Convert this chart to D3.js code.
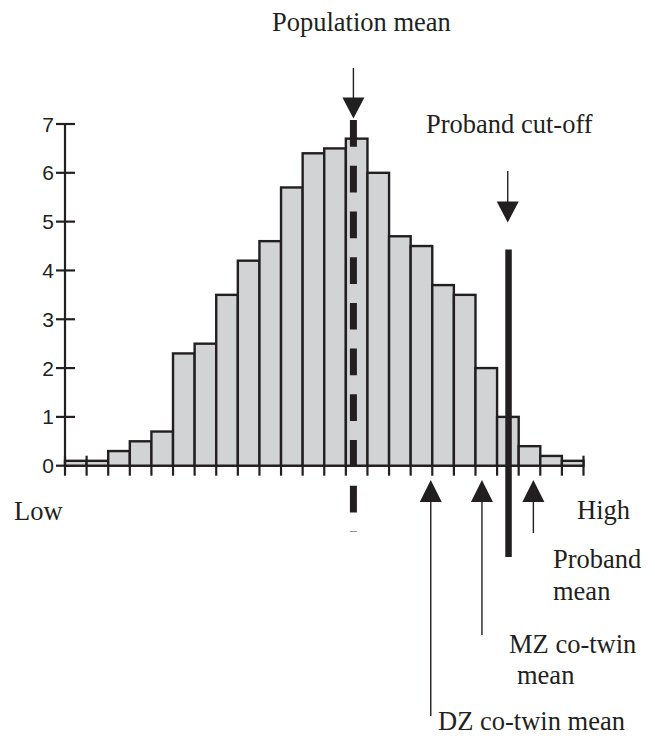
<!DOCTYPE html>
<html>
<head>
<meta charset="utf-8">
<script src="https://cdn.jsdelivr.net/npm/d3@7"></script>
<style>
  body { margin: 0; background: #fff; }
  .tick-label { font-family: "Liberation Sans", Arial, sans-serif; font-size: 21px; fill: #231f20; }
  .note { font-family: "Liberation Serif", "Times New Roman", serif; font-size: 26.5px; fill: #231f20; }
</style>
</head>
<body>
<svg id="chart" width="655" height="738"></svg>
<script>
// bin heights, low to high
const binValues = [0.1, 0.1, 0.3, 0.5, 0.7, 2.3, 2.5, 3.5, 4.2, 4.6, 5.7, 6.4,
                   6.5, 6.7, 6.0, 4.7, 4.5, 3.7, 3.5, 2.0, 1.0, 0.4, 0.2, 0.1];
const yTicks = [0, 1, 2, 3, 4, 5, 6, 7];

// marker positions in bin units
const populationMean = 13.35;
const probandCutoff = 20.53;
const upArrows = [
    { name: "DZ", pos: 16.93, bottom: -5.13 },
    { name: "MZ", pos: 19.3, bottom: -3.47 },
    { name: "Proband", pos: 21.68, bottom: -1.38 }
];

const ink = "#231f20";
const barFill = "#d1d3d4";

const svg = d3.select("#chart");
const x = d3.scaleLinear().domain([0, binValues.length]).range([65, 583.5]);
const y = d3.scaleLinear().domain([0, 7]).range([465.7, 124]);

// y axis with ticks crossing the line
const yAxis = svg.append("g").attr("transform", `translate(${x(0)},0)`);
yAxis.append("line")
    .attr("y1", y(7)).attr("y2", y(0))
    .attr("stroke", ink).attr("stroke-width", 2.2);
yAxis.selectAll(".yt")
    .data(yTicks)
    .enter().append("line")
    .attr("x1", -9).attr("x2", 10)
    .attr("y1", d => y(d)).attr("y2", d => y(d))
    .attr("stroke", ink).attr("stroke-width", 2.2);
yAxis.selectAll("text")
    .data(yTicks)
    .enter().append("text")
    .attr("class", "tick-label")
    .attr("x", -11)
    .attr("y", d => y(d) + 7.5)
    .attr("text-anchor", "end")
    .text(d => d);

// x axis
const xAxis = svg.append("g");
xAxis.append("line")
    .attr("x1", x(0)).attr("x2", x(binValues.length))
    .attr("y1", y(0)).attr("y2", y(0))
    .attr("stroke", ink).attr("stroke-width", 2.2);
xAxis.selectAll(".xt")
    .data(d3.range(binValues.length + 1))
    .enter().append("line")
    .attr("x1", d => x(d)).attr("x2", d => x(d))
    .attr("y1", y(0) - 10).attr("y2", y(0) + 10)
    .attr("stroke", ink).attr("stroke-width", 2.2);

// bars
svg.append("g")
    .selectAll("rect")
    .data(binValues)
    .enter().append("rect")
    .attr("x", (d, i) => x(i))
    .attr("y", d => y(d))
    .attr("width", x(1) - x(0))
    .attr("height", d => y(0) - y(d))
    .attr("fill", barFill)
    .attr("stroke", ink)
    .attr("stroke-width", 2.4);

// population mean: dashed thick line + down arrow
svg.append("line")
    .attr("x1", x(populationMean)).attr("x2", x(populationMean))
    .attr("y1", y(7.08)).attr("y2", y(-1.36))
    .attr("stroke", ink).attr("stroke-width", 7)
    .attr("stroke-dasharray", "26.7 19");

function downArrow(cx, top, tip) {
    svg.append("line")
        .attr("x1", cx).attr("x2", cx)
        .attr("y1", top).attr("y2", tip - 18)
        .attr("stroke", ink).attr("stroke-width", 1.4);
    svg.append("path")
        .attr("d", `M${cx - 11},${tip - 21} L${cx + 11},${tip - 21} L${cx},${tip} Z`)
        .attr("fill", ink);
}

function upArrow(cx, tip, bottom) {
    svg.append("line")
        .attr("x1", cx).attr("x2", cx)
        .attr("y1", tip + 18).attr("y2", bottom)
        .attr("stroke", ink).attr("stroke-width", 1.4);
    svg.append("path")
        .attr("d", `M${cx - 11},${tip + 22} L${cx + 11},${tip + 22} L${cx},${tip} Z`)
        .attr("fill", ink);
}

downArrow(x(populationMean), 68, 118.5);

// proband cut-off: thick solid line + down arrow
svg.append("line")
    .attr("x1", x(probandCutoff)).attr("x2", x(probandCutoff))
    .attr("y1", y(4.43)).attr("y2", y(-1.87))
    .attr("stroke", ink).attr("stroke-width", 6.5);
downArrow(x(probandCutoff) - 0.8, 171, 222.5);

// means below the axis
upArrows.forEach(function(a) {
    upArrow(x(a.pos), 480, y(a.bottom));
});

// labels
const notes = [
    { t: "Population mean", x: 272, y: 31 },
    { t: "Proband cut-off", x: 426, y: 133 },
    { t: "Low", x: 14, y: 520 },
    { t: "High", x: 577, y: 519 },
    { t: "Proband", x: 553, y: 568 },
    { t: "mean", x: 553, y: 600 },
    { t: "MZ co-twin", x: 509, y: 653 },
    { t: "mean", x: 517, y: 684 },
    { t: "DZ co-twin mean", x: 438, y: 730 }
];
svg.append("g")
    .selectAll("text")
    .data(notes)
    .enter().append("text")
    .attr("class", "note")
    .attr("x", d => d.x)
    .attr("y", d => d.y)
    .text(d => d.t);
</script>
</body>
</html>
